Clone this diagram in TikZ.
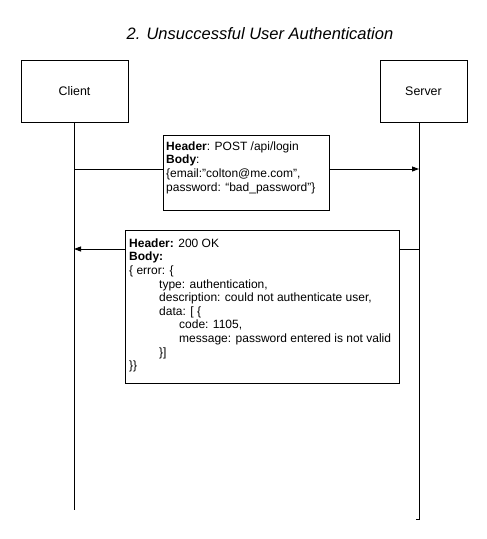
\documentclass[tikz,border=0pt]{standalone}
\usepackage{fontspec}
\setmainfont{Liberation Sans}
\usetikzlibrary{arrows.meta}
\begin{document}
\begin{tikzpicture}[x=1pt,y=-1pt,
  actor/.style={draw,line width=0.9pt,minimum width=#1,minimum height=62pt,inner sep=0pt,font=\fontsize{12.4}{14}\selectfont},
  msgbox/.style={draw,line width=0.9pt,fill=white,inner sep=0pt,anchor=north west},
  msgtext/.style={inner sep=0pt,align=left,anchor=north west,font=\fontsize{12}{13.6}\selectfont},
  life/.style={line width=0.9pt},
  msg/.style={line width=0.9pt},
  arr/.style={line width=0.9pt,-{Triangle[length=7pt,width=5pt]}}]
\useasboundingbox (0,0) rectangle (487,539);
\node[font=\itshape\fontsize{16.5}{19}\selectfont] (title) at (260,34) {2. Unsuccessful User Authentication};
\node[actor=107pt] (client) at (74.5,91) {Client};
\node[actor=87pt] (server) at (423.5,91) {Server};
\coordinate (cb) at (74,510);
\coordinate (sb) at (419,519);
\coordinate (sbt) at (416,519);
\draw[life] (client.south -| cb) -- (cb);
\draw[life] (server.south -| sb) -- (sb) -- (sbt);
% request
\node[msgbox,minimum width=166pt,minimum height=75pt] (req) at (162.5,135) {};
\node[msgtext] (reqtext) at (166,141.3) {%
\textbf{Header}: POST /api/login\\
\textbf{Body}:\\
\{email:”colton@me.com”,\\
password: “bad\_password”\}};
\coordinate (rq1) at (74,169);
\coordinate (rq2) at (419,169);
\draw[msg] (rq1) -- (rq1 -| req.west);
\draw[arr] (rq1 -| req.east) -- (rq2);
% response
\node[msgbox,minimum width=274pt,minimum height=153pt] (resp) at (124.5,230) {};
\node[msgtext] (resptext) at (129,238.3) {%
\textbf{Header:} 200 OK\\
\textbf{Body:}\\
\{ error: \{\\
\hspace*{30pt}type: authentication,\\
\hspace*{30pt}description: could not authenticate user,\\
\hspace*{30pt}data: [ \{\\
\hspace*{50pt}code: 1105,\\
\hspace*{50pt}message: password entered is not valid\\
\hspace*{30pt}\}]\\
\}\}};
\coordinate (rs1) at (419,249);
\coordinate (rs2) at (74,249);
\draw[msg] (rs1) -- (rs1 -| resp.east);
\draw[arr] (rs1 -| resp.west) -- (rs2);
\end{tikzpicture}
\end{document}
